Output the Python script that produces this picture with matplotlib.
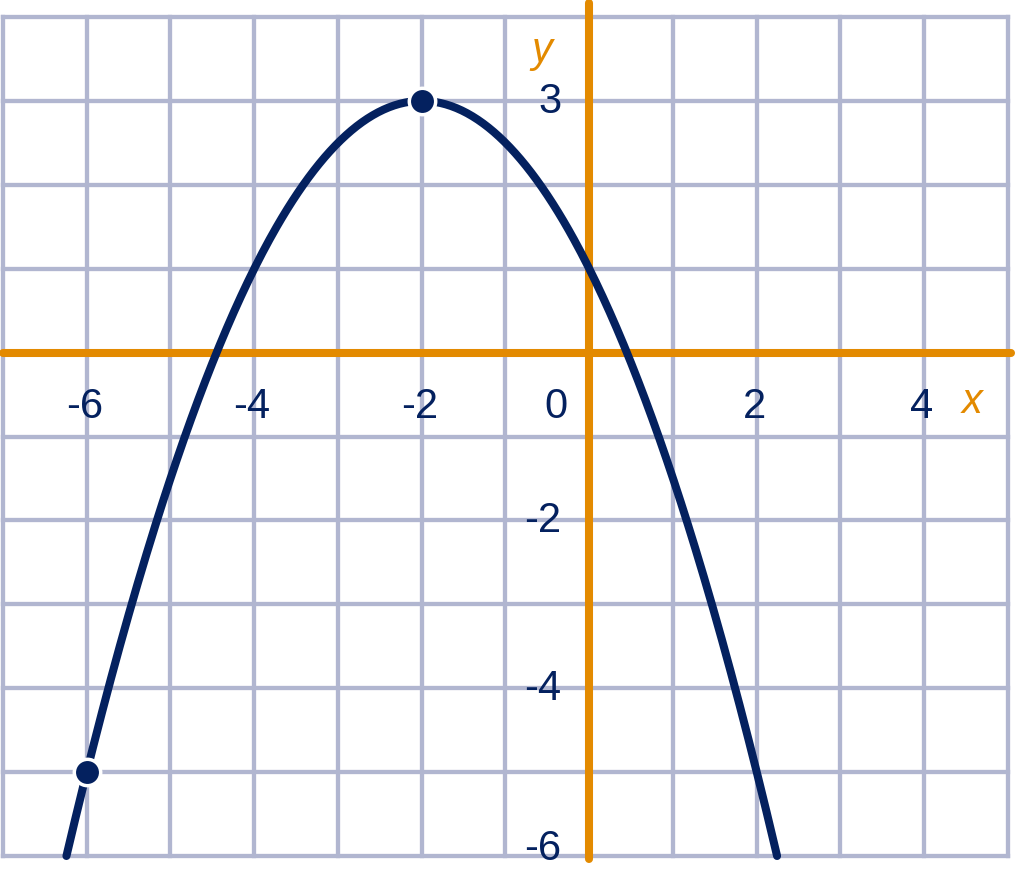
import numpy as np
import matplotlib.pyplot as plt

plt.rcParams['font.family'] = ['Liberation Sans', 'DejaVu Sans']

# parabola through vertex and one more point
vertex = (-2, 3)
point = (-6, -5)
x_ticks = [-6, -4, -2, 2, 4]
y_ticks = [3, -2, -4, -6]
grid_x = np.arange(-7, 6)
grid_y = np.arange(-6, 5)

navy = '#04215f'
orange = '#e38a00'
gridc = '#b1b6d0'

a = (point[1] - vertex[1]) / (point[0] - vertex[0]) ** 2
half = np.sqrt((-6 - vertex[1]) / a)
xs = np.linspace(vertex[0] - half, vertex[0] + half, 400)
ys = vertex[1] + a * (xs - vertex[0]) ** 2

fig = plt.figure(figsize=(10.15, 8.70), dpi=100)
ax = fig.add_axes([3 / 1015, 13 / 870, 1005 / 1015, 839 / 870])
ax.set_xlim(-7, 5)
ax.set_ylim(-6, 4)
ax.axis('off')

for gx in grid_x:
    ax.plot([gx, gx], [-6, 4], color=gridc, lw=3.1, clip_on=False, zorder=1)
for gy in grid_y:
    ax.plot([-7, 5], [gy, gy], color=gridc, lw=3.1, clip_on=False, zorder=1)

ax.plot([-7, 5.04], [0, 0], color=orange, lw=5.8, solid_capstyle='round',
        clip_on=False, zorder=2)
ax.plot([0, 0], [-6.04, 4.17], color=orange, lw=5.8, solid_capstyle='round',
        clip_on=False, zorder=2)

ax.plot(xs, ys, color=navy, lw=5.8, solid_capstyle='round', clip_on=False, zorder=3)
ax.plot([vertex[0], point[0]], [vertex[1], point[1]], 'o', ms=19, color=navy,
        mec='white', mew=2.5, clip_on=False, zorder=4)

fs = 30
for t in x_ticks:
    ax.text(t - 0.03, -0.64, str(t), fontsize=fs, color=navy,
            ha='center', va='center')
ax.text(-0.4, -0.64, '0', fontsize=fs, color=navy, ha='center', va='center')
for t in y_ticks:
    ty = t + 0.1 if t == -6 else t
    ax.text(-0.33, ty, str(t), fontsize=fs, color=navy, ha='right', va='center')

ax.text(4.57, -0.58, 'x', fontsize=fs, color=orange, style='italic',
        ha='center', va='center')
ax.text(-0.57, 3.61, 'y', fontsize=fs, color=orange, style='italic',
        ha='center', va='center')

fig.savefig('out.png', dpi=100)
